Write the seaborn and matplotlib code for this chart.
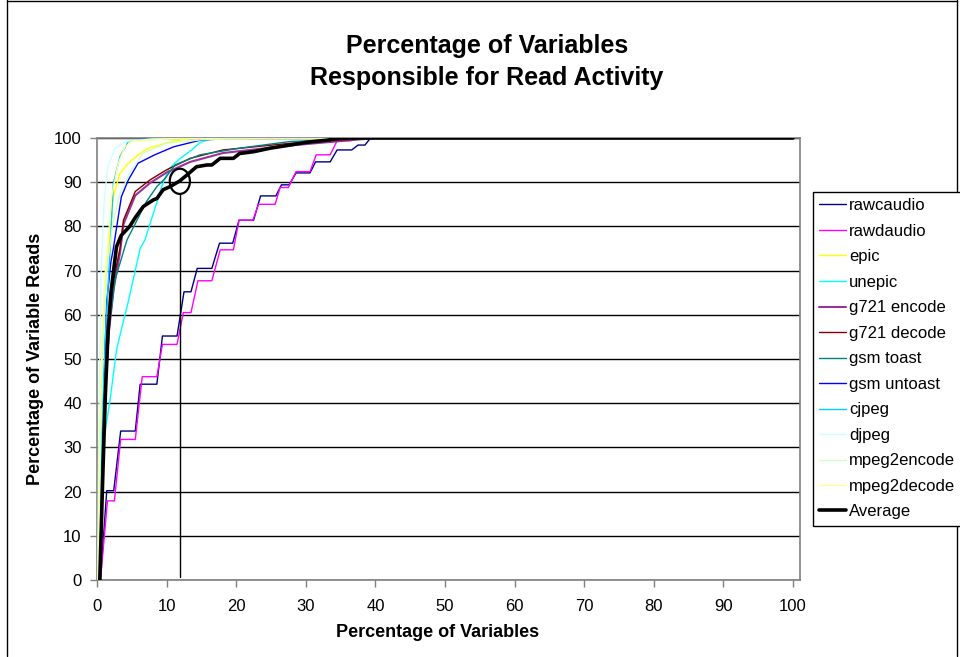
import matplotlib
matplotlib.use("Agg")
import matplotlib.pyplot as plt
from matplotlib.patches import Ellipse
from matplotlib.lines import Line2D
import seaborn as sns
import pandas as pd

# ---------------- data ----------------
series_names = ["rawcaudio", "rawdaudio", "epic", "unepic", "g721 encode", "g721 decode",
                "gsm toast", "gsm untoast", "cjpeg", "djpeg", "mpeg2encode", "mpeg2decode", "Average"]

rawcaudio_x = [0.5, 1.4, 2.4, 3.4, 5.5, 6.2, 8.6, 9.4, 11.5, 12.5, 13.5, 14.4, 16.5, 17.6, 19.5, 20.4,
               22.5, 23.5, 25.7, 26.5, 27.6, 28.6, 30.6, 31.4, 33.5, 34.5, 36.6, 37.5, 38.5, 39.3, 100]
rawcaudio_y = [0, 20.2, 20.2, 33.7, 33.7, 44.3, 44.3, 55.2, 55.2, 65.2, 65.2, 70.5, 70.5, 76.2, 76.2, 81.4,
               81.4, 86.9, 86.9, 89.4, 89.4, 92.1, 92.1, 94.6, 94.6, 97.3, 97.3, 98.4, 98.4, 100, 100]

rawdaudio_x = [0.5, 1.5, 2.5, 3.4, 5.5, 6.5, 8.6, 9.4, 11.5, 12.4, 13.5, 14.5, 16.5, 17.7, 19.6, 20.4,
               22.4, 23.2, 25.6, 26.3, 27.5, 28.6, 30.6, 31.5, 33.5, 34.5, 36.5, 37.2, 100]
rawdaudio_y = [0, 17.9, 17.9, 31.8, 31.8, 46.0, 46.0, 53.3, 53.3, 60.5, 60.5, 67.7, 67.7, 74.7, 74.7, 81.4,
               81.4, 85.0, 85.0, 88.8, 88.8, 92.4, 92.4, 96.2, 96.2, 99.4, 99.4, 100, 100]

epic_x = [0.2, 0.5, 0.8, 1.2, 1.6, 1.9, 2.35, 3.3, 4.5, 5.9, 7.4, 10.7, 13.4, 20, 100]
epic_y = [0, 35, 55, 66, 73, 79, 86.7, 92, 94.3, 96.2, 97.7, 99.2, 99.9, 100, 100]

unepic_x = [0.4, 0.9, 1.9, 2.8, 3.55, 4.5, 6.2, 6.9, 8.1, 9.3, 10.3, 11.8, 13.6, 14.8, 16.7, 25, 100]
unepic_y = [0, 31, 41, 52, 57, 63, 75, 77, 83, 89, 93, 95.2, 97.3, 99, 99.9, 100, 100]

g721_encode_x = [0.4, 0.8, 1.2, 1.7, 2.4, 3.3, 3.8, 5.5, 7.6, 10, 13.4, 18.1, 27.7, 40, 100]
g721_encode_y = [0, 23, 43, 56, 66, 74, 80.5, 87, 89.8, 92.2, 94.6, 96.6, 98.3, 100, 100]

g721_decode_x = [0.4, 0.8, 1.2, 1.7, 2.4, 3.3, 3.8, 5.5, 7.6, 10, 13.4, 18.1, 27.7, 40, 100]
g721_decode_y = [0, 25, 45, 58, 68, 75, 81.4, 87.9, 90.5, 92.8, 95.4, 97.3, 98.8, 100, 100]

gsm_toast_x = [0.4, 0.8, 1.3, 1.8, 2.6, 4.3, 7.1, 8.6, 9.8, 11.2, 14.8, 20.5, 27.7, 40, 100]
gsm_toast_y = [0, 25, 45, 58, 68, 76.9, 85.6, 89, 90.9, 93.9, 96.2, 97.7, 99.2, 100, 100]

gsm_untoast_x = [0.3, 0.6, 1.0, 1.4, 2.0, 2.35, 3.5, 4.5, 5.9, 8.3, 11, 14.8, 20, 100]
gsm_untoast_y = [0, 22, 45, 63, 72, 75, 86.7, 90.5, 94.3, 96.2, 98, 99.5, 100, 100]

cjpeg_x = [0.2, 0.6, 1.2, 1.87, 2.35, 3.3, 4.5, 8, 15, 100]
cjpeg_y = [0, 30, 55, 74.7, 89.7, 95.8, 99.2, 99.8, 100, 100]

djpeg_x = [0.1, 0.3, 0.6, 1.0, 1.5, 2.5, 4, 8, 15, 100]
djpeg_y = [0, 40, 70, 85, 93, 97.5, 99.2, 99.8, 100, 100]

mpeg2encode_x = [0.2, 0.5, 0.9, 1.4, 2.2, 3.2, 4.7, 6.6, 10, 15, 25, 100]
mpeg2encode_y = [0, 30, 55, 70, 80, 87, 92, 96.6, 98.8, 99.6, 100, 100]

mpeg2decode_x = [0.15, 0.4, 0.8, 1.2, 1.6, 2.1, 3.06, 4.0, 5, 10, 20, 100]
mpeg2decode_y = [0, 35, 58, 70, 77, 86.7, 94.3, 98, 99.2, 99.8, 100, 100]

average_x = [0.4, 0.8, 1.2, 1.6, 2.0, 2.8, 3.5, 4.7, 5.5, 6.65, 8.1, 8.6, 9.5, 10.5, 11.9, 12.9, 14.3,
             15.8, 16.5, 17.7, 19.6, 20.5, 22.5, 24.9, 27.7, 30, 33, 35, 100]
average_y = [0, 22, 42, 56.6, 65, 75.4, 78, 80, 82, 84.5, 86, 86.3, 88.3, 89, 90.3, 91.6, 93.5,
             93.9, 93.9, 95.4, 95.4, 96.5, 96.9, 97.7, 98.4, 99, 99.5, 100, 100]

x_ticks = list(range(0, 101, 10))
y_ticks = list(range(0, 101, 10))

# highlighted point (annotation)
highlight_x = 11.9
highlight_y = 90.2

series_x = [rawcaudio_x, rawdaudio_x, epic_x, unepic_x, g721_encode_x, g721_decode_x, gsm_toast_x,
            gsm_untoast_x, cjpeg_x, djpeg_x, mpeg2encode_x, mpeg2decode_x, average_x]
series_y = [rawcaudio_y, rawdaudio_y, epic_y, unepic_y, g721_encode_y, g721_decode_y, gsm_toast_y,
            gsm_untoast_y, cjpeg_y, djpeg_y, mpeg2encode_y, mpeg2decode_y, average_y]

colors = ["#000080", "#FF00FF", "#FFFF00", "#00FFFF", "#993399", "#800000", "#008080",
          "#0000FF", "#00CCFF", "#CCFFFF", "#CCFFCC", "#FFFF99", "#000000"]
widths = [1.0, 1.0, 1.0, 1.0, 1.5, 1.0, 1.0, 1.0, 1.0, 1.0, 1.0, 1.0, 2.6]

rows = []
for name, xs, ys in zip(series_names, series_x, series_y):
    for order, (xv, yv) in enumerate(zip(xs, ys)):
        rows.append({"series": name, "order": order, "x": xv, "y": yv})
df = pd.DataFrame(rows)

# ---------------- plotting ----------------
sns.set_theme(style="white")
plt.rcParams["font.family"] = ["Liberation Sans", "DejaVu Sans"]
plt.rcParams["text.color"] = "black"
plt.rcParams["axes.labelcolor"] = "black"
plt.rcParams["xtick.color"] = "black"
plt.rcParams["ytick.color"] = "black"

fig = plt.figure(figsize=(9.6, 6.57), dpi=100)
ax = fig.add_axes([97 / 960, 1 - 580 / 657, 703 / 960, 442 / 657])

for name, col, lw in zip(series_names, colors, widths):
    sub = df[df["series"] == name]
    sns.lineplot(data=sub, x="x", y="y", sort=False, estimator=None, color=col,
                 linewidth=lw, ax=ax, label=name, zorder=3)

ax.set_xlim(0, 101)
ax.set_ylim(0, 100)
ax.set_xticks(x_ticks)
ax.set_yticks(y_ticks)
ax.tick_params(axis="both", labelsize=12, length=5, width=1, color="#808080",
               labelcolor="black", direction="out", left=True, bottom=True)
ax.tick_params(axis="x", pad=9)
ax.tick_params(axis="y", pad=6)
ax.grid(axis="y", color="black", linewidth=1.0, zorder=1)
ax.grid(axis="x", visible=False)
for sp in ax.spines.values():
    sp.set_color("#808080")
    sp.set_linewidth(1.2)

ax.set_xlabel("Percentage of Variables", fontsize=13, fontweight="bold", color="black")
ax.set_ylabel("Percentage of Variable Reads", fontsize=13, fontweight="bold", color="black")
ax.xaxis.set_label_coords(0.485, -0.10)
ax.yaxis.set_label_coords(-0.076, 0.50)

# annotation: vertical line and ellipse
ax.plot([highlight_x, highlight_x], [0.7, highlight_y - 2.9], color="black", linewidth=1.0, zorder=4)
ax.add_patch(Ellipse((highlight_x, highlight_y), width=2.9, height=5.7, fill=False,
                     edgecolor="black", linewidth=1.6, zorder=5))

# legend
handles, labels = ax.get_legend_handles_labels()
ax.get_legend().remove()
leg = fig.legend(handles, labels, loc="upper left", bbox_to_anchor=(813 / 960, 1 - 192 / 657),
                 fontsize=12, frameon=True, fancybox=False, edgecolor="black", framealpha=1,
                 handlelength=1.6, handletextpad=0.2, labelspacing=0.63, borderpad=0.38,
                 borderaxespad=0)
leg.get_frame().set_linewidth(1.0)
for t in leg.get_texts():
    t.set_color("black")

# title
fig.text(487 / 960, 1 - 62 / 657, "Percentage of Variables\nResponsible for Read Activity",
         ha="center", va="center", fontsize=18, fontweight="bold", linespacing=1.4, color="black")

# outer chart border
for xs, ys in [([7, 7], [0, 656]), ([7, 957], [1, 1]), ([957, 957], [0, 656])]:
    fig.add_artist(Line2D([v / 960 for v in xs], [1 - v / 657 for v in ys],
                          transform=fig.transFigure, color="black", linewidth=1.0))

fig.savefig("out.png", dpi=100)
